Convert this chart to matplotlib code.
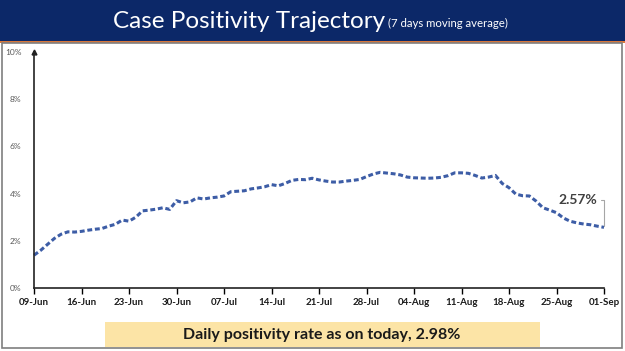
import matplotlib.pyplot as plt
import matplotlib.dates as mdates
import numpy as np
import pandas as pd
from matplotlib.patches import Rectangle

plt.rcParams['font.family'] = ['Lato', 'DejaVu Sans']

# 7 day moving average of positivity (%), 09-Jun to 01-Sep
dates = pd.date_range('2020-06-09', '2020-09-01', freq='D')
positivity = [
    1.39, 1.60, 1.85, 2.10, 2.28, 2.38, 2.37, 2.40, 2.45, 2.49,
    2.52, 2.62, 2.70, 2.88, 2.83, 3.00, 3.27, 3.30, 3.34, 3.40,
    3.33, 3.70, 3.61, 3.65, 3.82, 3.77, 3.82, 3.85, 3.90, 4.08,
    4.10, 4.12, 4.20, 4.24, 4.29, 4.38, 4.33, 4.43, 4.56, 4.60,
    4.59, 4.65, 4.58, 4.53, 4.49, 4.49, 4.53, 4.56, 4.60, 4.72,
    4.83, 4.90, 4.87, 4.84, 4.79, 4.70, 4.67, 4.66, 4.65, 4.66,
    4.69, 4.76, 4.88, 4.88, 4.86, 4.77, 4.66, 4.70, 4.77, 4.43,
    4.25, 3.98, 3.91, 3.90, 3.68, 3.40, 3.30, 3.19, 2.97, 2.83,
    2.76, 2.71, 2.68, 2.62, 2.57,
]
y_ticks = [0, 2, 4, 6, 8, 10]
title = "Case Positivity Trajectory"
subtitle = "(7 days moving average)"
footer = "Daily positivity rate as on today, 2.98%"

fig = plt.figure(figsize=(6.25, 3.51), dpi=100)

# header band and frame
fig.patches.append(Rectangle((0, 1 - 41 / 351), 1, 41 / 351, transform=fig.transFigure,
                             facecolor='#0C2868', edgecolor='none', zorder=0))
fig.patches.append(Rectangle((0, 1 - 43 / 351), 1, 2 / 351, transform=fig.transFigure,
                             facecolor='#D9773A', edgecolor='none', zorder=0))
fig.patches.append(Rectangle((2 / 625, 3 / 351), 620 / 625, 305 / 351, transform=fig.transFigure,
                             facecolor='none', edgecolor='#7F7F7F', linewidth=1.2, zorder=0))
fig.text(113 / 625, 1 - 21 / 351, title, color='white', fontsize=17.5, ha='left', va='center')
fig.text(388 / 625, 1 - 23 / 351, subtitle, color='white', fontsize=8.2, ha='left', va='center')

# footer box
fig.patches.append(Rectangle((105 / 625, 4 / 351), 435 / 625, 25 / 351, transform=fig.transFigure,
                             facecolor='#FCE4A6', edgecolor='none', zorder=0))
fig.text(322 / 625, 16.5 / 351, footer, fontsize=11.5, fontweight='bold', color='#1A1A1A',
         ha='center', va='center')

ax = fig.add_axes([34 / 625, 63 / 351, 570 / 625, 236 / 351])
ax.plot(dates, positivity, color='#3D5DA6', linewidth=2.2, linestyle=(0, (1.6, 0.9)),
        clip_on=False)

ax.set_xlim(dates[0], dates[-1])
ax.set_ylim(0, 10)
ax.set_yticks(y_ticks)
ax.set_yticklabels([f'{v}%' for v in y_ticks])
ax.set_xticks(dates[::7])
ax.xaxis.set_major_formatter(mdates.DateFormatter('%d-%b'))

for s in ['top', 'right']:
    ax.spines[s].set_visible(False)
ax.spines['left'].set_color('#222222')
ax.spines['bottom'].set_color('#222222')
ax.spines['left'].set_linewidth(1.2)
ax.spines['bottom'].set_linewidth(1.2)
ax.tick_params(axis='y', length=0, labelsize=6, labelcolor='#595959', pad=9)
ax.tick_params(axis='x', direction='out', length=4, width=1, labelsize=7,
               labelcolor='#1A1A1A', pad=3)
for lab in ax.get_xticklabels():
    lab.set_fontweight('bold')
ax.plot([0], [1], marker='^', color='#222222', markersize=3.5, transform=ax.transAxes,
        clip_on=False)

# last value label with leader line
ax.annotate('2.57%', xy=(dates[-1], positivity[-1]), xytext=(dates[-1] - pd.Timedelta(days=1.0), 3.75),
            fontsize=10, fontweight='bold', color='#404040', ha='right', va='center',
            arrowprops=dict(arrowstyle='-', color='#A6A6A6', linewidth=0.8,
                            connectionstyle='angle,angleA=0,angleB=90,rad=0', shrinkA=1, shrinkB=1))

fig.savefig('out.png', dpi=100)
